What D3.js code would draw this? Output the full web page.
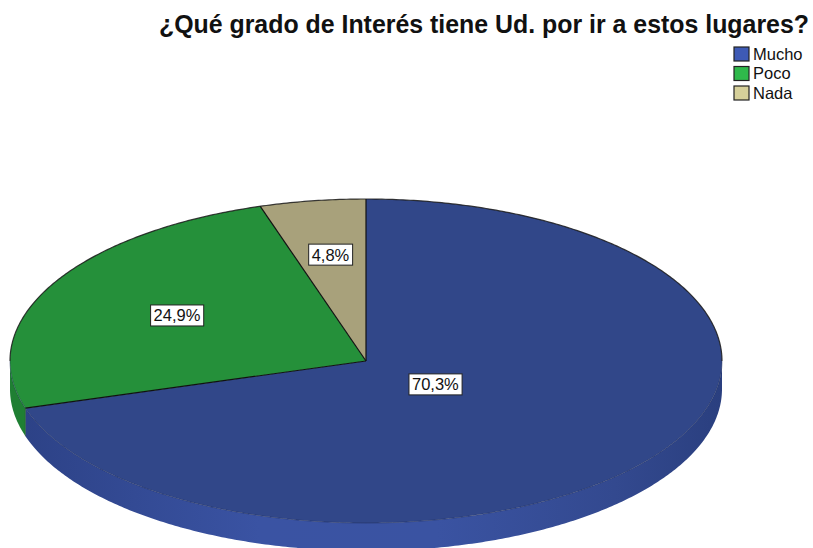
<!DOCTYPE html>
<html>
<head>
<meta charset="utf-8">
<script src="https://cdn.jsdelivr.net/npm/d3@7"></script>
<style>
  html, body { margin: 0; padding: 0; background: #fff; }
  svg { display: block; }
</style>
</head>
<body>
<svg id="chart" width="813" height="548"></svg>
<script>
// ---- data ----
const title = "¿Qué grado de Interés tiene Ud. por ir a estos lugares?";
const categories = ["Mucho", "Poco", "Nada"];
const values = [70.3, 24.9, 4.8];
const labels = ["70,3%", "24,9%", "4,8%"];

// ---- styles ----
const topColors = ["#314789", "#25903a", "#a8a17b"];
const sideColors = ["#3850a0", "#1f7f33", "#8f8965"];
const legendColors = ["#3e5ab5", "#2fb94b", "#d6d09a"];

const W = 813, H = 548;
const cx = 366, cy = 361, rx = 356, ry = 162, depth = 28;

const svg = d3.select("#chart");
const defs = svg.append("defs");

// gradient for the blue side wall
const grad = defs.append("linearGradient").attr("id", "sideBlue")
  .attr("gradientUnits", "userSpaceOnUse")
  .attr("x1", cx - rx).attr("x2", cx + rx).attr("y1", 0).attr("y2", 0);
grad.append("stop").attr("offset", "0%").attr("stop-color", "#2c4185");
grad.append("stop").attr("offset", "35%").attr("stop-color", "#3a53a3");
grad.append("stop").attr("offset", "60%").attr("stop-color", "#3a53a2");
grad.append("stop").attr("offset", "85%").attr("stop-color", "#33498f");
grad.append("stop").attr("offset", "100%").attr("stop-color", "#2a3f7f");

const pie = d3.pie().sort(null).value(d => d)
  .startAngle(0).endAngle(2 * Math.PI);
const arcs = pie(values);

// ellipse projection (angles clockwise from 12 o'clock, like d3.pie)
const px = a => cx + rx * Math.sin(a);
const py = a => cy - ry * Math.cos(a);

function sampleAngles(a0, a1) {
  const n = Math.max(2, Math.ceil(Math.abs(a1 - a0) / 0.01));
  return d3.range(n + 1).map(i => a0 + (a1 - a0) * i / n);
}

const line = d3.line();

// ---- side walls (visible between PI/2 and 3PI/2) ----
arcs.forEach((d, i) => {
  const a0 = Math.max(d.startAngle, Math.PI / 2);
  const a1 = Math.min(d.endAngle, 3 * Math.PI / 2);
  if (a1 <= a0) return;
  const angs = sampleAngles(a0, a1);
  const topPts = angs.map(a => [px(a), py(a)]);
  const botPts = angs.slice().reverse().map(a => [px(a), py(a) + depth]);
  svg.append("path")
    .attr("d", line(topPts.concat(botPts)) + "Z")
    .attr("fill", i === 0 ? "url(#sideBlue)" : sideColors[i])
    .attr("stroke", "none");
});

// ---- top faces ----
arcs.forEach((d, i) => {
  const angs = sampleAngles(d.startAngle, d.endAngle);
  const pts = [[cx, cy]].concat(angs.map(a => [px(a), py(a)]));
  svg.append("path")
    .attr("d", line(pts) + "Z")
    .attr("fill", topColors[i])
    .attr("stroke", "none");
});

// outline of the top ellipse edge (upper half darker)
svg.append("path")
  .attr("d", line(sampleAngles(-Math.PI / 2, Math.PI / 2).map(a => [px(a), py(a)])))
  .attr("fill", "none").attr("stroke", "#1a1a1a").attr("stroke-width", 1.2)
  .attr("stroke-opacity", 0.85);
svg.append("path")
  .attr("d", line(sampleAngles(Math.PI / 2, 3 * Math.PI / 2).map(a => [px(a), py(a)])))
  .attr("fill", "none").attr("stroke", "#1e2a55").attr("stroke-width", 0.8)
  .attr("stroke-opacity", 0.6);

// slice boundary lines
arcs.forEach(d => {
  svg.append("line")
    .attr("x1", cx).attr("y1", cy)
    .attr("x2", px(d.startAngle)).attr("y2", py(d.startAngle))
    .attr("stroke", "#111").attr("stroke-width", 1.2);
});
// vertical edge at the Mucho/Poco boundary on the side wall
const bA = arcs[0].endAngle;
svg.append("line")
  .attr("x1", px(bA)).attr("y1", py(bA))
  .attr("x2", px(bA)).attr("y2", py(bA) + depth)
  .attr("stroke", "#1a3a22").attr("stroke-width", 0.8).attr("stroke-opacity", 0.6);

// ---- labels at sector centroids ----
arcs.forEach((d, i) => {
  const half = (d.endAngle - d.startAngle) / 2;
  const mid = d.startAngle + half;
  const f = (2 / 3) * Math.sin(half) / half;
  const lx = cx + rx * f * Math.sin(mid);
  const ly = cy - ry * f * Math.cos(mid);
  const g = svg.append("g").attr("transform", `translate(${lx},${ly})`);
  const t = g.append("text")
    .attr("text-anchor", "middle").attr("dy", "0.36em")
    .attr("font-family", "Liberation Sans, Arial, sans-serif")
    .attr("font-size", 16.5).attr("fill", "#111")
    .text(labels[i]);
  const bb = t.node().getBBox();
  g.insert("rect", "text")
    .attr("x", bb.x - 3).attr("y", -10.5)
    .attr("width", bb.width + 6).attr("height", 21)
    .attr("fill", "#fff").attr("stroke", "#222").attr("stroke-width", 1);
});

// ---- title ----
svg.append("text")
  .attr("x", 809).attr("y", 33)
  .attr("text-anchor", "end")
  .attr("font-family", "Liberation Sans, Arial, sans-serif")
  .attr("font-weight", "bold").attr("font-size", 24.9)
  .attr("fill", "#111")
  .text(title);

// ---- legend ----
const legend = svg.append("g");
categories.forEach((c, i) => {
  const y = 54 + i * 19.5;
  legend.append("rect")
    .attr("x", 734).attr("y", y - 7).attr("width", 15).attr("height", 14)
    .attr("fill", legendColors[i]).attr("stroke", "#222").attr("stroke-width", 1.2);
  legend.append("text")
    .attr("x", 753).attr("y", y).attr("dy", "0.36em")
    .attr("font-family", "Liberation Sans, Arial, sans-serif")
    .attr("font-size", 16.5).attr("fill", "#111")
    .text(c);
});
</script>
</body>
</html>
